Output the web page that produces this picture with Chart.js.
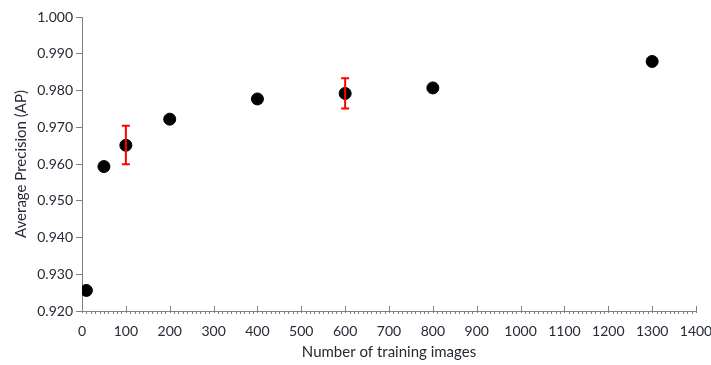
<!DOCTYPE html>
<html>
<head>
<meta charset="utf-8">
<script src="https://cdn.jsdelivr.net/npm/chart.js@4/dist/chart.umd.min.js"></script>
<style>
  html, body { margin: 0; padding: 0; background: #fff; }
  #wrap { width: 711px; height: 365px; }
</style>
</head>
<body>
<div id="wrap"><canvas id="chart"></canvas></div>
<script>
// training set size vs AP
const images = [10, 50, 100, 200, 400, 600, 800, 1300];
const ap = [0.9256, 0.9593, 0.9651, 0.9722, 0.9777, 0.9792, 0.9807, 0.9879];
// error bars (only two points have them)
const errX = [100, 600];
const errLow = [0.9599, 0.9751];
const errHigh = [0.9704, 0.9833];

const textColor = '#252a35';
const axisColor = '#808080';

// draws the red error bars and the x-axis tick marks (major inside, minor outside)
const extras = {
    id: 'extras',
    afterDatasetsDraw(chart) {
        const ctx = chart.ctx;
        const x = chart.scales.x, y = chart.scales.y;
        ctx.save();
        ctx.strokeStyle = '#ff0000';
        ctx.lineWidth = 2;
        for (let i = 0; i < errX.length; i++) {
            const px = x.getPixelForValue(errX[i]);
            const top = y.getPixelForValue(errHigh[i]);
            const bot = y.getPixelForValue(errLow[i]);
            ctx.beginPath();
            ctx.moveTo(px, top); ctx.lineTo(px, bot);
            ctx.moveTo(px - 4, top); ctx.lineTo(px + 4, top);
            ctx.moveTo(px - 4, bot); ctx.lineTo(px + 4, bot);
            ctx.stroke();
        }
        ctx.restore();
    },
    afterDraw(chart) {
        const ctx = chart.ctx;
        const x = chart.scales.x;
        const base = chart.chartArea.bottom;
        ctx.save();
        ctx.strokeStyle = axisColor;
        ctx.lineWidth = 1;
        ctx.beginPath();
        for (let v = 0; v <= 1400; v += 10) {
            const px = Math.round(x.getPixelForValue(v)) + 0.5;
            if (v % 100 === 0) {
                ctx.moveTo(px, base - 5); ctx.lineTo(px, base + 2);
            } else {
                ctx.moveTo(px, base); ctx.lineTo(px, base + 3);
            }
        }
        ctx.stroke();
        ctx.restore();
    }
};

new Chart(document.getElementById('chart'), {
    type: 'scatter',
    data: {
        datasets: [{
            data: images.map((v, i) => ({ x: v, y: ap[i] })),
            backgroundColor: '#000',
            borderColor: '#000',
            pointRadius: 6,
            pointHoverRadius: 6
        }]
    },
    options: {
        responsive: true,
        maintainAspectRatio: false,
        animation: false,
        layout: { padding: { top: 17, right: 0, left: 0, bottom: 0 } },
        plugins: {
            legend: { display: false },
            tooltip: { enabled: false }
        },
        scales: {
            x: {
                type: 'linear',
                min: 0,
                max: 1400,
                afterFit: s => { s.height = 54; s.paddingRight = 15; },
                ticks: {
                    stepSize: 100,
                    color: textColor,
                    font: { family: 'Lato', size: 14 },
                    padding: 4,
                    callback: v => String(v)
                },
                grid: { display: false },
                border: { display: true, color: axisColor, width: 1 },
                title: {
                    display: true,
                    text: 'Number of training images',
                    color: textColor,
                    font: { family: 'Lato', size: 15 },
                    padding: { top: 4 }
                }
            },
            y: {
                min: 0.92,
                max: 1.0,
                afterFit: s => { s.width = 82; },
                ticks: {
                    stepSize: 0.01,
                    color: textColor,
                    font: { family: 'Lato', size: 14 },
                    padding: 3,
                    callback: v => v.toFixed(3)
                },
                grid: {
                    drawOnChartArea: false,
                    drawTicks: true,
                    tickLength: 6,
                    color: axisColor
                },
                border: { display: true, color: axisColor, width: 1 },
                title: {
                    display: true,
                    text: 'Average Precision (AP)',
                    color: textColor,
                    font: { family: 'Lato', size: 15 },
                    padding: { top: 12, bottom: 2 }
                }
            }
        }
    },
    plugins: [extras]
});
</script>
</body>
</html>
